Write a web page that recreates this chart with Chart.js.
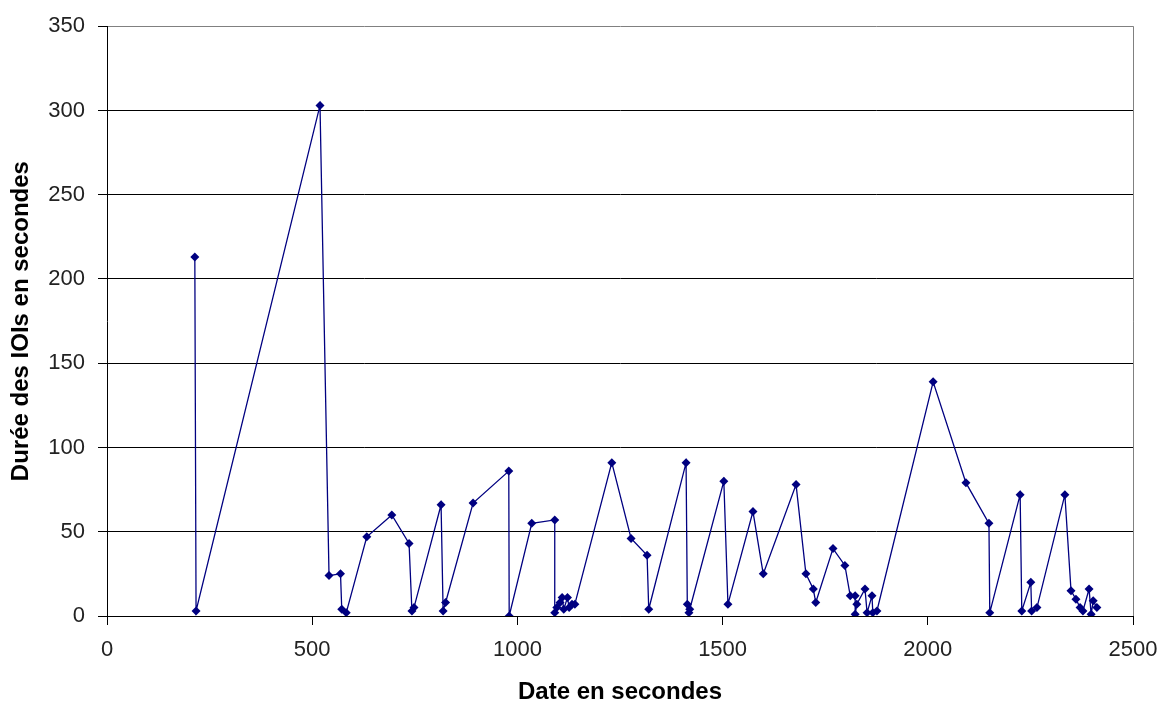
<!DOCTYPE html>
<html>
<head>
<meta charset="utf-8">
<style>
  body { margin: 0; background: #fff; }
</style>
</head>
<body>
    <canvas id="myChartIOI" width="1171" height="702"></canvas>

    <script src="https://cdn.jsdelivr.net/npm/chart.js"></script>

    <script>
        // date en secondes / durée des IOIs
        var dates = [214, 217, 519, 541, 569, 572, 583, 633, 694, 736, 743, 748, 814, 819, 825, 892, 979, 980,
            1035, 1091, 1091, 1096, 1104, 1109, 1113, 1122, 1126, 1133, 1140, 1230, 1277, 1316, 1320, 1411,
            1414, 1418, 1420, 1503, 1513, 1574, 1599, 1679, 1703, 1721, 1727, 1769, 1798, 1811, 1823, 1823,
            1827, 1847, 1852, 1864, 1866, 1876, 2013, 2093, 2149, 2151, 2225, 2229, 2251, 2253, 2266, 2334,
            2349, 2361, 2371, 2378, 2393, 2398, 2403, 2412]
        var durees = [213, 3, 303, 24, 25, 4, 2, 47, 60, 43, 3, 5, 66, 3, 8, 67, 86, 0,
            55, 57, 2, 5, 8, 11, 4, 11, 5, 7, 7, 91, 46, 36, 4, 91,
            7, 2, 4, 80, 7, 62, 25, 78, 25, 16, 8, 40, 30, 12, 12, 1,
            7, 16, 2, 12, 2, 3, 139, 79, 55, 2, 72, 3, 20, 3, 5, 72,
            15, 10, 5, 3, 16, 1, 9, 5]
        var xTicks = [0, 500, 1000, 1500, 2000, 2500]
        var yTicks = [0, 50, 100, 150, 200, 250, 300, 350]

        var puntos = dates.map(function (d, i) { return { x: d, y: durees[i] } })

        // bord droit gris de la zone de tracé
        var bordDroit = {
            id: 'bordDroit',
            afterDraw: function (chart) {
                var a = chart.chartArea
                var c = chart.ctx
                c.save()
                c.strokeStyle = '#808080'
                c.lineWidth = 1
                c.beginPath()
                c.moveTo(Math.round(a.right) + 0.5, a.top)
                c.lineTo(Math.round(a.right) + 0.5, a.bottom)
                c.stroke()
                c.restore()
            }
        }

        var ctxIOI = document.getElementById('myChartIOI')

        var myChartIOI = new Chart(ctxIOI, {
            type: 'scatter',
            data: {
                datasets: [{
                    data: puntos,
                    showLine: true,
                    borderColor: '#000080',
                    backgroundColor: '#000080',
                    borderWidth: 1.3,
                    pointStyle: 'rectRot',
                    pointRadius: 4.5,
                    pointBorderWidth: 0,
                    tension: 0
                }]
            },
            options: {
                responsive: false,
                animation: false,
                layout: { padding: { top: 26, right: 38, left: 0, bottom: 0 } },
                plugins: {
                    legend: { display: false },
                    tooltip: { enabled: false }
                },
                scales: {
                    x: {
                        type: 'linear',
                        min: 0,
                        max: 2500,
                        afterBuildTicks: function (s) { s.ticks = xTicks.map(function (v) { return { value: v } }) },
                        afterFit: function (s) { s.height = 86 },
                        grid: { drawOnChartArea: false, tickLength: 9, tickColor: '#000' },
                        border: { color: '#000', width: 1 },
                        ticks: {
                            color: '#222', padding: 12,
                            font: { family: 'Liberation Sans', size: 22 },
                            callback: function (v) { return String(v) }
                        },
                        title: {
                            display: true,
                            text: 'Date en secondes',
                            color: '#000',
                            padding: { top: 0, bottom: 0 },
                            font: { family: 'Liberation Sans', size: 24, weight: 'bold', lineHeight: 0.8 }
                        }
                    },
                    y: {
                        min: 0,
                        max: 350,
                        afterBuildTicks: function (s) { s.ticks = yTicks.map(function (v) { return { value: v } }) },
                        afterFit: function (s) { s.width = 107 },
                        grid: {
                            color: function (c) { return c.tick && c.tick.value === 350 ? '#808080' : '#000' },
                            tickLength: 9,
                            tickColor: '#000',
                            lineWidth: 1
                        },
                        border: { color: '#000', width: 1 },
                        ticks: {
                            color: '#222', padding: 13,
                            font: { family: 'Liberation Sans', size: 22 },
                            callback: function (v) { return String(v) }
                        },
                        title: {
                            display: true,
                            text: 'Durée des IOIs en secondes',
                            color: '#000',
                            padding: { top: 9, bottom: 0 },
                            font: { family: 'Liberation Sans', size: 24, weight: 'bold', lineHeight: 1 }
                        }
                    }
                }
            },
            plugins: [bordDroit]
        })
    </script>
</body>
</html>
